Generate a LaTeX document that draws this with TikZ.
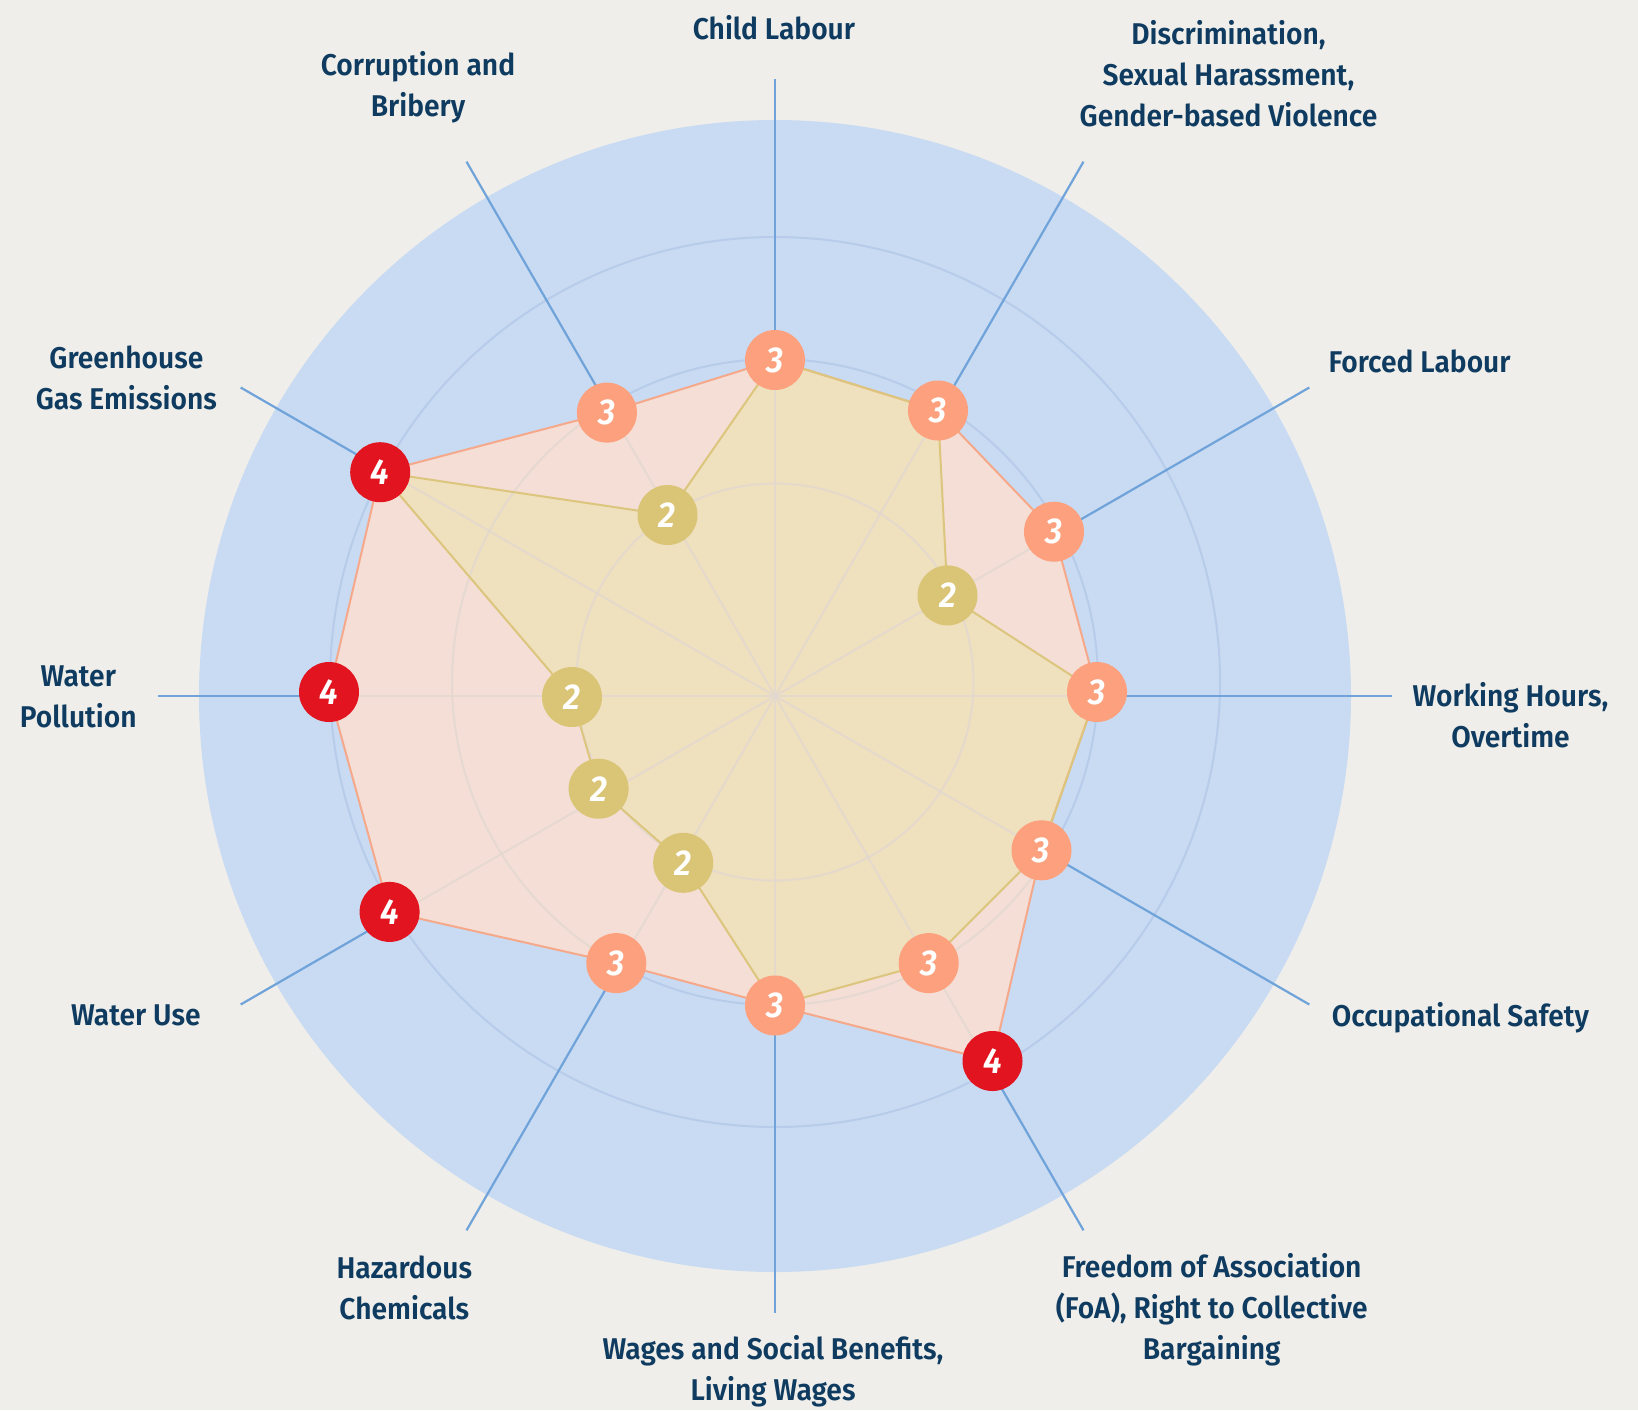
\documentclass[tikz,border=0pt]{standalone}
\usepackage{fontspec}
\setmainfont{Fira Sans}[UprightFont=* SemiBold, BoldFont=* SemiBold, ItalicFont=* SemiBold Italic, BoldItalicFont=* SemiBold Italic, FakeStretch=0.94]
\definecolor{bgc}{HTML}{EFEEEA}
\definecolor{discc}{HTML}{C9DBF2}
\definecolor{gridc}{HTML}{B6CCEA}
\definecolor{spokec}{HTML}{6FA3DA}
\definecolor{txtc}{HTML}{0E3B5F}
\definecolor{ofill}{HTML}{F4DED5}
\definecolor{oline}{HTML}{F5A88A}
\definecolor{yfill}{HTML}{EFE0BE}
\definecolor{yline}{HTML}{DCC57C}
\definecolor{mor}{HTML}{FCA07D}
\definecolor{mred}{HTML}{E1141F}
\definecolor{myel}{HTML}{DAC577}
\definecolor{faint}{HTML}{E3D8D0}
\tikzset{
  lab/.style={text=txtc, align=center, inner sep=0pt, font=\fontsize{15pt}{20.5pt}\selectfont},
  mk/.style={circle, minimum size=30pt, inner sep=0pt, text=white, font=\fontsize{18pt}{18pt}\selectfont\bfseries\itshape},
  mko/.style={mk, fill=mor},
  mkr/.style={mk, fill=mred},
  mky/.style={mk, fill=myel},
  spoke/.style={draw=spokec, line width=1.1pt},
  gridline/.style={draw=gridc, line width=1pt},
  faintline/.style={draw=faint, line width=1pt, opacity=0.8},
}
\begin{document}
\begin{tikzpicture}[x=0.5pt,y=-0.5pt]
\fill[bgc] (0,0) rectangle (1638,1410);
\useasboundingbox (0,0) rectangle (1638,1410);
\coordinate (C) at (775,696);
\coordinate (G) at (775,682);
% disc
\fill[discc] (C) circle (288pt);
% grid circles
\foreach \r in {99.25pt,161.5pt,222.5pt} {\draw[gridline] (G) circle (\r);}
% spokes
\foreach \i in {0,...,11} {
  \path (C) ++({-90+30*\i}:617) coordinate (e\i);
  \draw[spoke] (C) -- (e\i);
}
% data points
\coordinate (o0) at (775,360);
\coordinate (o1) at (938,410.5);
\coordinate (o2) at (1054,531.7);
\coordinate (o3) at (1097,692);
\coordinate (o4) at (1041.5,850.3);
\coordinate (o5) at (992.5,1061);
\coordinate (o6) at (775,1005.5);
\coordinate (o7) at (616.3,963.1);
\coordinate (o8) at (389.6,911.9);
\coordinate (o9) at (329,692);
\coordinate (o10) at (380.2,472.2);
\coordinate (o11) at (606.9,412.6);
\coordinate (y2) at (947.5,595.4);
\coordinate (y5) at (928.7,963.1);
\coordinate (y7) at (683.2,862.8);
\coordinate (y8) at (598.6,788.7);
\coordinate (y9) at (572,697);
\coordinate (y11) at (667.5,515);
% polygons
\fill[ofill] (o0) -- (o1) -- (o2) -- (o3) -- (o4) -- (o5) -- (o6) -- (o7) -- (o8) -- (o9) -- (o10) -- (o11) -- cycle;
\fill[yfill] (o0) -- (o1) -- (y2) -- (o3) -- (o4) -- (y5) -- (o6) -- (y7) -- (y8) -- (y9) -- (o10) -- (y11) -- cycle;
\begin{scope}
  \clip (o0) -- (o1) -- (o2) -- (o3) -- (o4) -- (o5) -- (o6) -- (o7) -- (o8) -- (o9) -- (o10) -- (o11) -- cycle;
  \foreach \r in {99.25pt,161.5pt,222.5pt} {\draw[faintline] (G) circle (\r);}
  \foreach \i in {0,...,11} {\draw[faintline] (C) -- (e\i);}
\end{scope}
\draw[oline, line width=1pt, line join=round] (o0) -- (o1) -- (o2) -- (o3) -- (o4) -- (o5) -- (o6) -- (o7) -- (o8) -- (o9) -- (o10) -- (o11) -- cycle;
\draw[yline, line width=1pt, line join=round] (o0) -- (o1) -- (y2) -- (o3) -- (o4) -- (y5) -- (o6) -- (y7) -- (y8) -- (y9) -- (o10) -- (y11) -- cycle;
% markers
\node[mko] (m0) at (o0) {3};
\node[mko] (m1) at (o1) {3};
\node[mko] (m2) at (o2) {3};
\node[mko] (m3) at (o3) {3};
\node[mko] (m4) at (o4) {3};
\node[mkr] (m5) at (o5) {4};
\node[mko] (m6) at (o6) {3};
\node[mko] (m7) at (o7) {3};
\node[mkr] (m8) at (o8) {4};
\node[mkr] (m9) at (o9) {4};
\node[mkr] (m10) at (o10) {4};
\node[mko] (m11) at (o11) {3};
\node[mky] (n2) at (y2) {2};
\node[mko] (n5) at (y5) {3};
\node[mky] (n7) at (y7) {2};
\node[mky] (n8) at (y8) {2};
\node[mky] (n9) at (y9) {2};
\node[mky] (n11) at (y11) {2};
% labels
\node[lab] (l0) at (774,28) {Child Labour};
\node[lab] (l1) at (1228.5,74) {Discrimination,\\Sexual Harassment,\\Gender-based Violence};
\node[lab] (l2) at (1419.6,361.4) {Forced Labour};
\node[lab] (l3) at (1510.5,715) {Working Hours,\\Overtime};
\node[lab] (l4) at (1460.4,1017.4) {Occupational Safety};
\node[lab] (l5) at (1211.7,1310) {Freedom of Association\\(FoA), Right to Collective\\Bargaining};
\node[lab] (l6) at (773,1371) {Wages and Social Benefits,\\Living Wages};
\node[lab] (l7) at (404.3,1288) {Hazardous\\Chemicals};
\node[lab] (l8) at (135.8,1015.4) {Water Use};
\node[lab] (l9) at (78.3,697) {Water\\Pollution};
\node[lab] (l10) at (126.4,378) {Greenhouse\\Gas Emissions};
\node[lab] (l11) at (418,87) {Corruption and\\Bribery};
\end{tikzpicture}
\end{document}
